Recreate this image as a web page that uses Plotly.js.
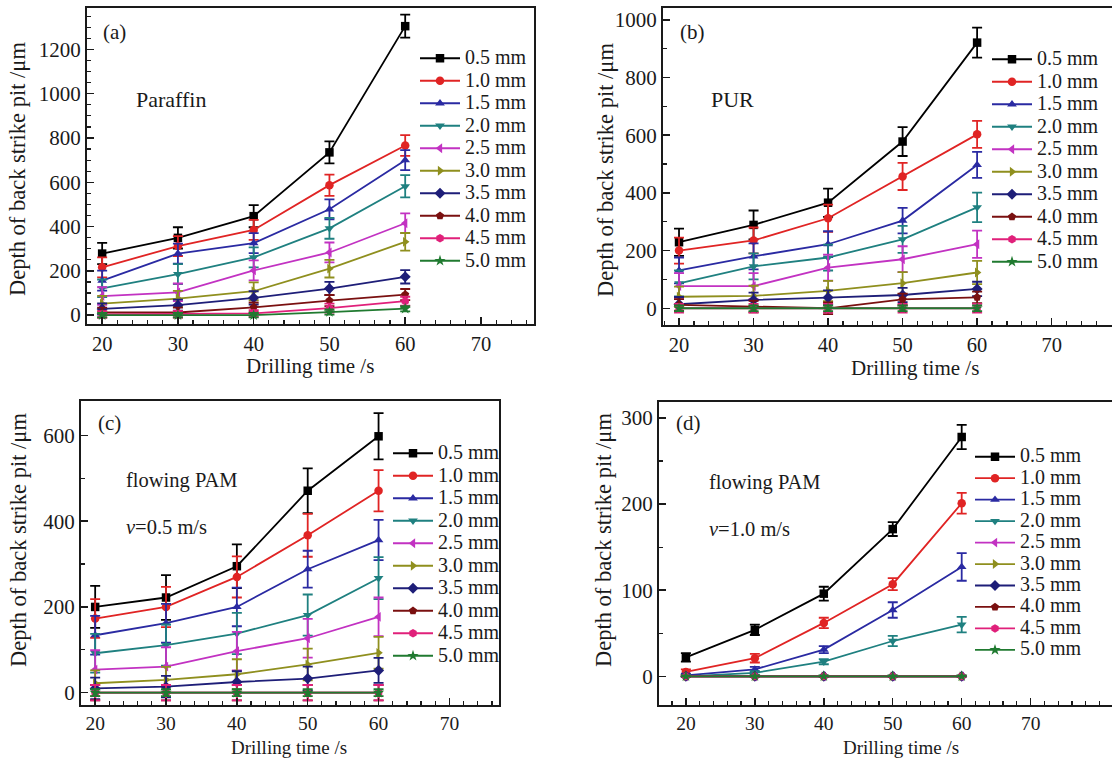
<!DOCTYPE html>
<html>
<head>
<meta charset="utf-8">
<script src="https://cdn.plot.ly/plotly-3.0.1.min.js"></script>
<style>
html,body{margin:0;padding:0;background:#fff;}
#chart{width:1112px;height:760px;}
</style>
</head>
<body>
<div id="chart"></div>
<script>
// ---------------- data ----------------
const drillingTime = [20, 30, 40, 50, 60];
const thicknessLabels = ['0.5 mm','1.0 mm','1.5 mm','2.0 mm','2.5 mm','3.0 mm','3.5 mm','4.0 mm','4.5 mm','5.0 mm'];

// (a) Paraffin
const paraffinDepth = [
  [278, 349, 447, 735, 1305],
  [216, 312, 385, 587, 766],
  [156, 278, 325, 478, 700],
  [121, 185, 261, 392, 582],
  [86, 103, 202, 283, 415],
  [52, 75, 108, 210, 331],
  [28, 45, 78, 120, 173],
  [12, 12, 35, 66, 93],
  [3, 4, 8, 32, 63],
  [0, 0, 0, 14, 29]
];
const paraffinErr = [
  [48, 48, 50, 50, 52],
  [45, 45, 45, 48, 47],
  [45, 45, 45, 45, 45],
  [40, 45, 45, 47, 50],
  [40, 40, 45, 45, 45],
  [35, 35, 40, 40, 40],
  [25, 25, 30, 30, 30],
  [22, 22, 22, 25, 25],
  [15, 15, 15, 20, 20],
  [10, 10, 10, 12, 12]
];

// (b) PUR
const purDepth = [
  [229, 289, 366, 578, 921],
  [200, 235, 312, 457, 603],
  [131, 180, 222, 304, 497],
  [86, 145, 176, 239, 350],
  [77, 77, 141, 170, 222],
  [40, 43, 60, 87, 124],
  [14, 29, 37, 46, 67],
  [12, 6, 0, 31, 38],
  [0, 0, 0, 0, 0],
  [0, 0, 0, 0, 0]
];
const purErr = [
  [47, 50, 49, 50, 52],
  [45, 45, 47, 47, 47],
  [45, 45, 45, 44, 45],
  [45, 45, 45, 47, 51],
  [45, 45, 45, 45, 47],
  [35, 35, 35, 38, 40],
  [25, 25, 25, 25, 25],
  [20, 20, 20, 20, 20],
  [15, 15, 15, 15, 15],
  [10, 10, 10, 10, 10]
];

// (c) flowing PAM, v = 0.5 m/s
const pam05Depth = [
  [200, 222, 295, 471, 598],
  [173, 200, 270, 367, 471],
  [134, 162, 200, 288, 356],
  [92, 111, 138, 181, 267],
  [54, 61, 97, 127, 177],
  [22, 30, 43, 66, 93],
  [10, 14, 25, 33, 52],
  [0, 0, 0, 0, 0],
  [0, 0, 0, 0, 0],
  [0, 0, 0, 0, 0]
];
const pam05Err = [
  [49, 52, 51, 52, 54],
  [45, 47, 48, 50, 48],
  [45, 45, 45, 43, 47],
  [45, 48, 48, 48, 49],
  [45, 45, 45, 45, 45],
  [30, 30, 35, 37, 37],
  [25, 25, 25, 28, 29],
  [18, 18, 18, 18, 18],
  [18, 18, 18, 18, 18],
  [8, 8, 8, 8, 8]
];

// (d) flowing PAM, v = 1.0 m/s
const pam10Depth = [
  [22, 54, 96, 171, 278],
  [5, 21, 62, 107, 201],
  [1, 8, 31, 77, 127],
  [0, 4, 17, 41, 60],
  [0, 0, 0, 0, 0],
  [0, 0, 0, 0, 0],
  [0, 0, 0, 0, 0],
  [0, 0, 0, 0, 0],
  [0, 0, 0, 0, 0],
  [0, 0, 0, 0, 0]
];
const pam10Err = [
  [5, 6, 8, 8, 14],
  [3, 5, 6, 7, 12],
  [2, 3, 4, 9, 16],
  [1, 2, 3, 6, 9],
  [0, 0, 0, 0, 0],
  [0, 0, 0, 0, 0],
  [0, 0, 0, 0, 0],
  [0, 0, 0, 0, 0],
  [0, 0, 0, 0, 0],
  [0, 0, 0, 0, 0]
];

const xTickVals = [20, 30, 40, 50, 60, 70];
const yTitle = 'Depth of back strike pit /μm';
const xTitle = 'Drilling time /s';

// ---------------- styling ----------------
const seriesColors = ['#000000','#e02424','#2a2aa2','#1f8080','#c232c2','#8f8f1e','#1e1e78','#7a1010','#e0207a','#207a30'];
const seriesSymbols = ['square','circle','triangle-up','triangle-down','triangle-left','triangle-right','diamond','pentagon','hexagon','star'];
const FONT = 'Liberation Serif, Times New Roman, serif';
const INK = '#1a1a1a';
const W = 1112, H = 760;
const px = v => v / W;
const py = v => 1 - v / H;

const panels = [
  {depth: paraffinDepth, err: paraffinErr, xa: 'x',  ya: 'y',  leg: 'legend'},
  {depth: purDepth,      err: purErr,      xa: 'x2', ya: 'y2', leg: 'legend2'},
  {depth: pam05Depth,    err: pam05Err,    xa: 'x3', ya: 'y3', leg: 'legend3'},
  {depth: pam10Depth,    err: pam10Err,    xa: 'x4', ya: 'y4', leg: 'legend4'}
];

const traces = [];
panels.forEach(p => {
  p.depth.forEach((vals, i) => {
    traces.push({
      type: 'scatter',
      mode: 'lines+markers',
      x: drillingTime,
      y: vals,
      xaxis: p.xa,
      yaxis: p.ya,
      legend: p.leg,
      name: '<span style="font-size:20px">' + thicknessLabels[i] + '</span>',
      line: {color: seriesColors[i], width: 1.8},
      marker: {color: seriesColors[i], symbol: seriesSymbols[i], size: 8.5},
      error_y: {type: 'data', array: p.err[i], visible: true, color: seriesColors[i], thickness: 1.8, width: 5},
      cliponaxis: false
    });
  });
});

function xAxis(domain, range, anchor, fs) {
  return {
    domain: domain, range: range, anchor: anchor,
    tickvals: xTickVals,
    showline: true, linewidth: 2, linecolor: INK, mirror: true,
    ticks: 'inside', ticklen: 7, tickwidth: 1.5, tickcolor: INK,
    minor: {ticks: 'inside', ticklen: 4, tickwidth: 1.2, tickcolor: INK, dtick: 2, tick0: 0},
    showgrid: false, zeroline: false,
    tickfont: {family: FONT, size: fs, color: INK},
    automargin: false
  };
}
function yAxis(domain, range, anchor, dtick, minorDtick, mirror) {
  return {
    domain: domain, range: range, anchor: anchor,
    dtick: dtick, tick0: 0,
    showline: true, linewidth: 2, linecolor: INK, mirror: mirror,
    ticks: 'inside', ticklen: 7, tickwidth: 1.5, tickcolor: INK,
    minor: {ticks: 'inside', ticklen: 4, tickwidth: 1.2, tickcolor: INK, dtick: minorDtick, tick0: 0},
    showgrid: false, zeroline: false,
    tickfont: {family: FONT, size: 21, color: INK},
    automargin: false
  };
}

function legendAt(x, y, fs) {
  return {
    x: px(x), y: py(y), xanchor: 'left', yanchor: 'top',
    bgcolor: 'rgba(0,0,0,0)', borderwidth: 0,
    font: {family: FONT, size: fs, color: INK},
    itemwidth: 40, tracegroupgap: 0
  };
}

function ann(text, x, y, size) {
  return {text: text, x: px(x), y: py(y), xref: 'paper', yref: 'paper',
          xanchor: 'left', yanchor: 'middle', showarrow: false,
          font: {family: FONT, size: size || 21, color: INK}};
}
function annC(text, x, y, size, angle) {
  return {text: text, x: px(x), y: py(y), xref: 'paper', yref: 'paper',
          xanchor: 'center', yanchor: 'middle', showarrow: false, textangle: angle || 0,
          borderpad: 0,
          font: {family: FONT, size: size, color: INK}};
}

const layout = {
  width: W, height: H,
  margin: {l: 0, r: 0, t: 0, b: 0},
  paper_bgcolor: '#fff', plot_bgcolor: '#fff',
  showlegend: true,
  xaxis: xAxis([px(87), px(534)], [18, 77], 'y', 20.5),
  yaxis: yAxis([py(324), py(8)], [-40, 1387], 'x', 200, 50, true),
  xaxis2: xAxis([px(663), 1], [17.85, 78.1], 'y2', 20.5),
  yaxis2: yAxis([py(325), py(8.3)], [-58, 1040], 'x2', 200, 100, false),
  xaxis3: xAxis([px(81), px(499)], [18, 77], 'y3', 19.5),
  yaxis3: yAxis([py(704.7), py(400.7)], [-28, 681], 'x3', 200, 100, true),
  xaxis4: xAxis([px(659), 1], [16.1, 81.8], 'y4', 19.5),
  yaxis4: yAxis([py(704.7), py(401.7)], [-33, 319], 'x4', 100, 50, false),
  legend: legendAt(415, 42, 15),
  legend2: legendAt(987, 43, 15),
  legend3: legendAt(388, 437, 15),
  legend4: legendAt(970, 441, 14.2),
  annotations: [
    ann('(a)', 101, 32), ann('Paraffin', 134, 100, 22),
    ann('(b)', 678, 32), ann('PUR', 709, 100, 22),
    ann('(c)', 96, 423), ann('flowing PAM', 124, 480, 20.5), ann('<i>v</i>=0.5 m/s', 124, 527, 20.5),
    ann('(d)', 674, 423), ann('flowing PAM', 707, 482, 20.5), ann('<i>v</i>=1.0 m/s', 707, 529, 20.5),
    annC(xTitle, 310, 366, 21), annC(xTitle, 915, 368, 21),
    annC(xTitle, 289, 747.5, 19), annC(xTitle, 901, 747.5, 19),
    annC(yTitle, 18, 169, 22.5, -90), annC(yTitle, 605, 170, 22.5, -90),
    annC(yTitle, 18, 540, 22.5, -90), annC(yTitle, 603, 540, 22.5, -90)
  ]
};

Plotly.newPlot('chart', traces, layout, {displayModeBar: false, staticPlot: true});
</script>
</body>
</html>
